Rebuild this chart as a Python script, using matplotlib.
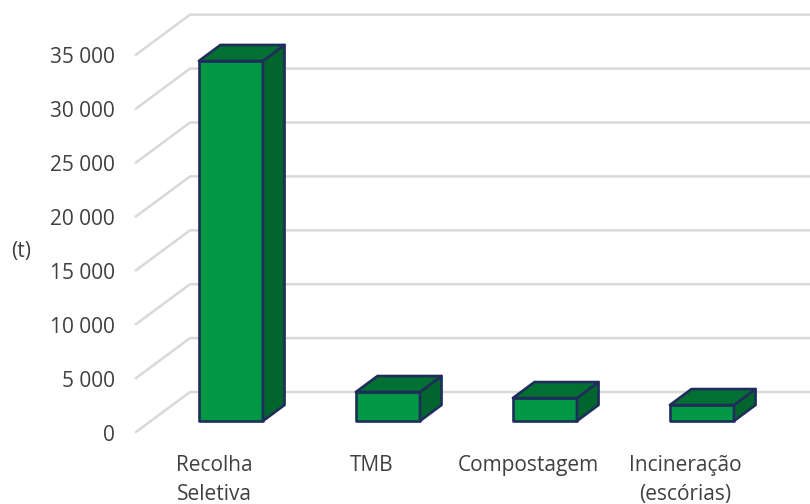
import numpy as np
import matplotlib
matplotlib.use('Agg')
import matplotlib.pyplot as plt
from matplotlib.patches import Polygon

plt.rcParams['font.family'] = 'Open Sans'

categories = ['Recolha\nSeletiva', 'TMB', 'Compostagem', 'Incineração\n(escórias)']
values = [33400, 2690, 2130, 1480]
y_ticks = [0, 5000, 10000, 15000, 20000, 25000, 30000, 35000]
y_tick_labels = ['0', '5 000', '10 000', '15 000', '20 000', '25 000', '30 000', '35 000']

# oblique projection, in axis units
DEPTH_X = 0.344
DEPTH_Y = 3710
BAR_NEAR = 0.275
BAR_FAR = 0.675
BAR_HALF = 0.204
BAR_SHIFT = 0.01

front_col = '#009845'
top_col = '#027032'
side_col = '#03652E'
edge_col = '#1F2D5C'
grid_col = '#D9D9D9'
text_col = '#404040'
label_size = 15


def project(x, y, depth):
    return (x + DEPTH_X * depth, y + DEPTH_Y * depth)


fig = plt.figure(figsize=(8.1, 5.04), dpi=100)
ax = fig.add_axes([0, 0, 1, 1])
ax.set_xlim(-1.366, 3.793)
ax.set_ylim(-6679, 40074)
ax.axis('off')

# gridlines: along the floor/wall depth, then across the back wall
x_left = -0.5
x_right = 3.5
for t, lab in zip(y_ticks, y_tick_labels):
    p0 = project(x_left, t, 0)
    p1 = project(x_left, t, 1)
    p2 = project(x_right, t, 1)
    ax.plot([p0[0], p1[0], p2[0]], [p0[1], p1[1], p2[1]], color=grid_col, lw=1.8,
            solid_joinstyle='round', zorder=1)
    ax.text(-0.635, t - 300, lab, ha='right', va='center', fontsize=label_size, color=text_col)

ax.text(-1.23, 16750, '(t)', ha='center', va='center', fontsize=label_size, color=text_col)

# bars
for i, v in enumerate(values):
    xa = i + BAR_SHIFT - BAR_HALF
    xb = i + BAR_SHIFT + BAR_HALF
    fl0 = project(xa, 0, BAR_NEAR)
    fr0 = project(xb, 0, BAR_NEAR)
    fl1 = project(xa, v, BAR_NEAR)
    fr1 = project(xb, v, BAR_NEAR)
    bl1 = project(xa, v, BAR_FAR)
    br1 = project(xb, v, BAR_FAR)
    br0 = project(xb, 0, BAR_FAR)
    for pts, col in [([fl0, fr0, fr1, fl1], front_col),
                     ([fr0, br0, br1, fr1], side_col),
                     ([fl1, fr1, br1, bl1], top_col)]:
        ax.add_patch(Polygon(pts, closed=True, facecolor=col, edgecolor=edge_col,
                             lw=1.9, joinstyle='round', zorder=3))

# category labels
for i, c in enumerate(categories):
    ax.text(i, -2130, c, ha='center', va='top', fontsize=label_size, color=text_col, linespacing=1.5)

fig.savefig('out.png', dpi=100)
